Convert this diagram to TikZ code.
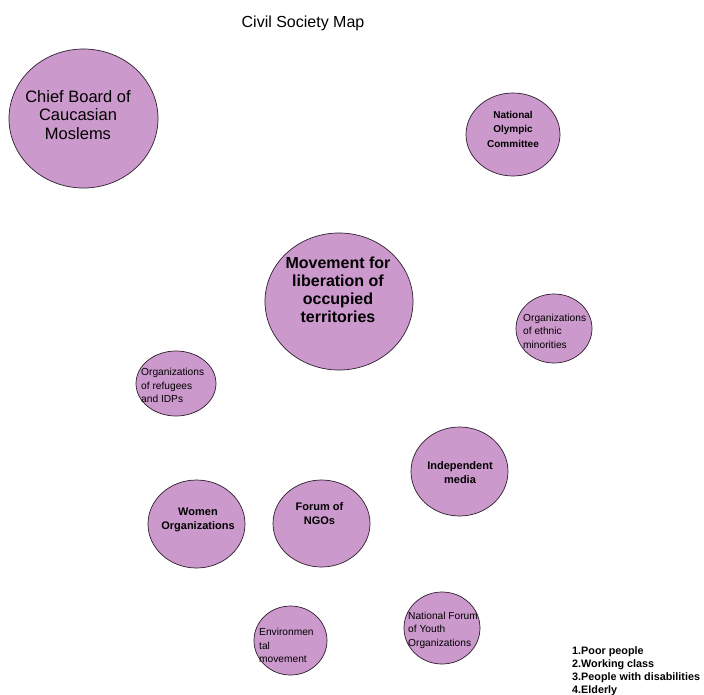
\documentclass[tikz,border=0pt]{standalone}
\usepackage{fontspec}
\setmainfont{Liberation Sans}
\usetikzlibrary{shapes.geometric}
\definecolor{blobfill}{RGB}{204,153,204}
\definecolor{blobline}{RGB}{45,30,45}
\newcommand\fsz[2]{\fontsize{#1}{#2}\selectfont}
\tikzset{
  blob/.style={ellipse, draw=blobline, fill=blobfill, line width=0.7pt, inner sep=0pt},
  txt/.style={inner sep=0pt, align=center, text=black},
  bigtxt/.style={txt, font=\fsz{16.5}{18.5}},
  movtxt/.style={txt, font=\bfseries\fsz{16}{18}},
  boldsm/.style={txt, font=\bfseries\fsz{10}{14.5}},
  boldmd/.style={txt, font=\bfseries\fsz{11}{14}},
  plainsm/.style={inner sep=0pt, align=left, anchor=west, font=\fsz{10.2}{13.5}},
  legendtxt/.style={inner sep=0pt, align=left, anchor=north west, font=\bfseries\fsz{10.8}{13}},
  titletxt/.style={txt, font=\fsz{16}{19}}
}
\begin{document}
\begin{tikzpicture}[x=1pt, y=-1pt]
\fill[white] (0,0) rectangle (704,694);
\useasboundingbox (0,0) rectangle (704,694);

\node[titletxt] (title) at (303,23) {Civil Society Map};

% ellipses
\node[blob, minimum width=149pt, minimum height=139pt] (chief) at (83.5,118.5) {};
\node[blob, minimum width=94pt, minimum height=83pt] (olymp) at (513,134.5) {};
\node[blob, minimum width=148pt, minimum height=137pt] (move) at (339,301.5) {};
\node[blob, minimum width=76pt, minimum height=69pt] (ethnic) at (554,328.5) {};
\node[blob, minimum width=80pt, minimum height=65pt] (refug) at (176,383.5) {};
\node[blob, minimum width=97pt, minimum height=89pt] (media) at (459.5,471.5) {};
\node[blob, minimum width=97pt, minimum height=88pt] (women) at (196.5,524) {};
\node[blob, minimum width=97pt, minimum height=87pt] (forum) at (321.5,523.5) {};
\node[blob, minimum width=73pt, minimum height=69pt] (envir) at (290.5,640.5) {};
\node[blob, minimum width=76pt, minimum height=72pt] (youth) at (442,628) {};

% texts
\node[bigtxt] (chiefT) at (78,115) {Chief Board of\\Caucasian\\Moslems};
\node[boldsm] (olympT) at (513,129) {National\\Olympic\\Committee};
\node[movtxt] (moveT) at (338,290) {Movement for\\liberation of\\occupied\\territories};
\node[plainsm] (ethnicT) at (523,331) {Organizations\\of ethnic\\minorities};
\node[plainsm] (refugT) at (141,385.5) {Organizations\\of refugees\\and IDPs};
\node[boldmd] (mediaT) at (460,473) {Independent\\media};
\node[boldmd] (womenT) at (198,520) {Women\\Organizations};
\node[boldmd] (forumT) at (319.5,514) {Forum of\\NGOs};
\node[plainsm] (envirT) at (259,645.5) {Environmen\\tal\\movement};
\node[plainsm] (youthT) at (408,630) {National Forum\\of Youth\\Organizations};

\node[legendtxt] (legend) at (572,646) {1.Poor people\\2.Working class\\3.People with disabilities\\4.Elderly};
\end{tikzpicture}
\end{document}
